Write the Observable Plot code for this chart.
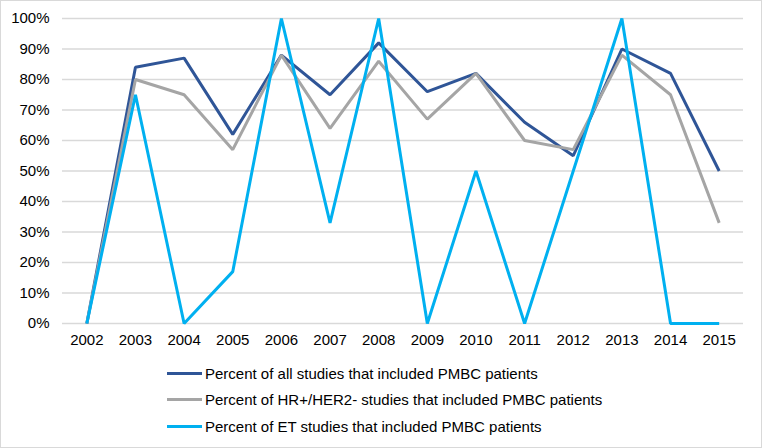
<!DOCTYPE html>
<html>
<head>
<meta charset="utf-8">
<script src="https://cdn.jsdelivr.net/npm/d3@7"></script>
<script src="https://cdn.jsdelivr.net/npm/@observablehq/plot@0.6"></script>
<style>
  html, body { margin: 0; padding: 0; background: #fff; }
  #frame { width: 762px; height: 448px; position: relative; overflow: hidden; font-family: "Liberation Sans", Arial, sans-serif; }
  #chart { position: absolute; left: 0; top: 0; width: 762px; }
  #chart svg { max-width: none; display: block; }
  #chart svg text { font-family: "Liberation Sans", Arial, sans-serif; font-size: 15px; fill: #000; }
  #border { position: absolute; left: 0; top: 0; width: 762px; height: 448px; box-sizing: border-box; border: 1px solid #d9d9d9; pointer-events: none; }
  #legend { position: absolute; left: 167px; top: 360px; font-size: 15px; color: #000; }
  .item { display: flex; align-items: center; height: 26.5px; }
  .swatch { width: 35px; height: 3px; margin-right: 3px; }
</style>
</head>
<body>
<div id="frame">
  <div id="chart"></div>
  <div id="legend"></div>
  <div id="border"></div>
</div>
<script>
const years = [2002, 2003, 2004, 2005, 2006, 2007, 2008, 2009, 2010, 2011, 2012, 2013, 2014, 2015];
const allStudies = [0, 84, 87, 62, 88, 75, 92, 76, 82, 66, 55, 90, 82, 50];
const hrHer2 = [0, 80, 75, 57, 88, 64, 86, 67, 82, 60, 57, 88, 75, 33];
const etStudies = [0, 75, 0, 17, 100, 33, 100, 0, 50, 0, 50, 100, 0, 0];
const seriesNames = [
  "Percent of all studies that included PMBC patients",
  "Percent of HR+/HER2- studies that included PMBC patients",
  "Percent of ET studies that included PMBC patients"
];
const seriesColors = ["#2f5597", "#a5a5a5", "#00b0f0"];
const yTicks = [0, 0.1, 0.2, 0.3, 0.4, 0.5, 0.6, 0.7, 0.8, 0.9, 1];

const seriesValues = [allStudies, hrHer2, etStudies];
const data = seriesValues.flatMap((vals, s) =>
  years.map((y, i) => ({year: String(y), value: vals[i] / 100, series: seriesNames[s]})));

const chart = Plot.plot({
  width: 762,
  height: 356,
  marginLeft: 62,
  marginRight: 19,
  marginTop: 18,
  marginBottom: 33,
  style: "font-family: 'Liberation Sans', Arial, sans-serif; font-size: 15px; color: #000; background: transparent; max-width: none;",
  x: {type: "point", domain: years.map(String), padding: 0.5, round: false},
  y: {domain: [0, 1]},
  color: {domain: seriesNames, range: seriesColors},
  marks: [
    Plot.gridY(yTicks, {stroke: "#d9d9d9", strokeOpacity: 1, strokeWidth: 1.5}),
    Plot.axisY(yTicks, {tickFormat: d3.format(".0%"), label: null, tickSize: 0, tickPadding: 13, fontSize: 15, fill: "#000"}),
    Plot.axisX(years.map(String), {label: null, tickSize: 0, tickPadding: 11, fontSize: 15, fill: "#000"}),
    Plot.line(data, {x: "year", y: "value", z: "series", stroke: "series", strokeWidth: 3, strokeLinejoin: "miter", strokeLinecap: "butt"})
  ]
});
document.getElementById("chart").appendChild(chart);

const legend = document.getElementById("legend");
seriesNames.forEach((name, i) => {
  const item = document.createElement("div");
  item.className = "item";
  const sw = document.createElement("div");
  sw.className = "swatch";
  sw.style.background = seriesColors[i];
  const label = document.createElement("span");
  label.textContent = name;
  item.appendChild(sw);
  item.appendChild(label);
  legend.appendChild(item);
});
</script>
</body>
</html>
